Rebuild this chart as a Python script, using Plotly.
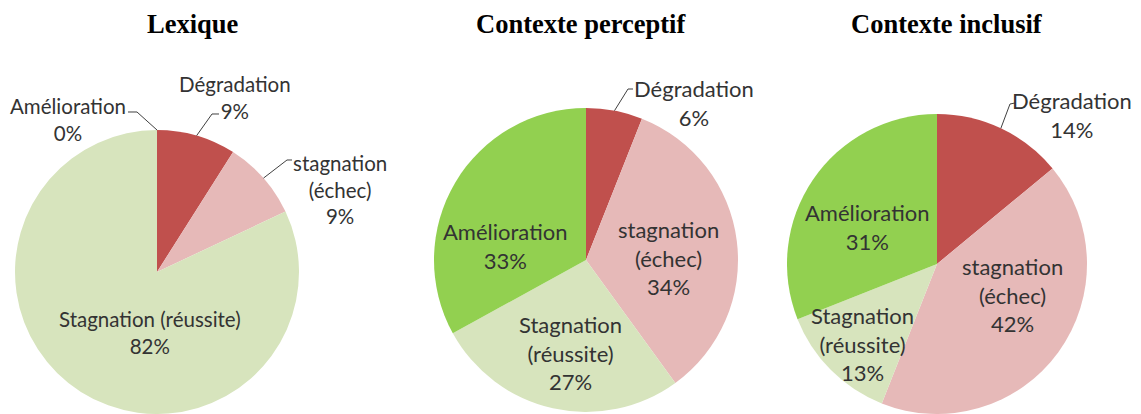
import math
import plotly.graph_objects as go

# ---------------- data ----------------
categories = ["Dégradation", "stagnation (échec)", "Stagnation (réussite)", "Amélioration"]
titles = ["Lexique", "Contexte perceptif", "Contexte inclusif"]
lexique = [9, 9, 82, 0]
perceptif = [6, 34, 27, 33]
inclusif = [14, 42, 13, 31]
series = [lexique, perceptif, inclusif]

# ---------------- styles / layout ----------------
colors = ["#C0504D", "#E6B9B8", "#D7E4BD", "#92D050"]
W, H = 1141, 414
LABEL_FONT = "Lato"
TEXT_COLOR = "#333333"

# pie geometry in pixels: centre x, centre y, radius
geom = [(157, 272, 142), (586, 260, 152), (937, 264, 150)]
title_pos = [(193, 24), (581, 24), (947, 24)]
label_size = [20.5, 22, 22]

# label placement per pie: category index -> (x, y, line-break mode, leader start/knee)
label_layout = [
    {0: (235, 98, "name_val", ((219, 114), (212, 114))),
     1: (340, 189, "split_val", ((292, 160), (287, 160))),
     2: (150, 332, "name_val", None),
     3: (68, 120, "name_val", ((128, 112), (137, 112)))},
    {0: (694, 103, "name_val", ((633, 89), (628, 89))),
     1: (668, 258, "split_val", None),
     2: (570, 353, "split_val", None),
     3: (505, 246, "name_val", None)},
    {0: (1072, 115, "name_val", ((1015, 103), (1010, 104))),
     1: (1012, 295, "split_val", None),
     2: (862, 344, "split_val", None),
     3: (867, 227, "name_val", None)},
]


def px(x, y):
    return x / W, 1 - y / H


fig = go.Figure()
annotations = []
shapes = []

for k, vals in enumerate(series):
    cx, cy, r = geom[k]
    x0, y1 = px(cx - r, cy - r)
    x1, y0 = px(cx + r, cy + r)
    fig.add_trace(go.Pie(
        labels=categories,
        values=vals,
        sort=False,
        direction="clockwise",
        rotation=0,
        marker=dict(colors=colors, line=dict(width=0)),
        textinfo="none",
        hoverinfo="label+percent",
        showlegend=False,
        domain=dict(x=[max(0, x0), min(1, x1)], y=[max(0, y0), min(1, y1)]),
    ))

    tx, ty = px(*title_pos[k])
    annotations.append(dict(
        x=tx, y=ty, xref="paper", yref="paper", xanchor="center", yanchor="middle",
        text="<b>%s</b>" % titles[k], showarrow=False,
        font=dict(family="Liberation Serif", size=26.5, color="#000000"),
    ))

    total = float(sum(vals))
    cum = 0.0
    for i, v in enumerate(vals):
        mid = (cum + v / 2.0) / total * 2 * math.pi
        cum += v
        lx, ly, mode, leader = label_layout[k][i]
        name = categories[i]
        if mode == "split_val":
            name = name.replace(" ", "<br>")
        text = "%s<br>%d%%" % (name, v)
        ax_, ay_ = px(lx, ly)
        annotations.append(dict(
            x=ax_, y=ay_, xref="paper", yref="paper", xanchor="center", yanchor="middle",
            text=text, showarrow=False, align="center",
            font=dict(family=LABEL_FONT, size=label_size[k], color=TEXT_COLOR),
        ))
        if leader is not None:
            ex = cx + r * math.sin(mid)
            ey = cy - r * math.cos(mid)
            (sx, sy), (kx, ky) = leader
            p1 = px(sx, sy)
            p2 = px(kx, ky)
            p3 = px(ex, ey)
            shapes.append(dict(
                type="path", xref="paper", yref="paper",
                path="M %f,%f L %f,%f L %f,%f" % (p1[0], p1[1], p2[0], p2[1], p3[0], p3[1]),
                line=dict(color="#404040", width=1),
            ))

fig.update_layout(
    width=W, height=H,
    margin=dict(l=0, r=0, t=0, b=0),
    paper_bgcolor="white",
    plot_bgcolor="white",
    annotations=annotations,
    shapes=shapes,
)

fig.write_html("out.html", config={"displayModeBar": False},
               post_script="document.body.style.margin='0px';")
